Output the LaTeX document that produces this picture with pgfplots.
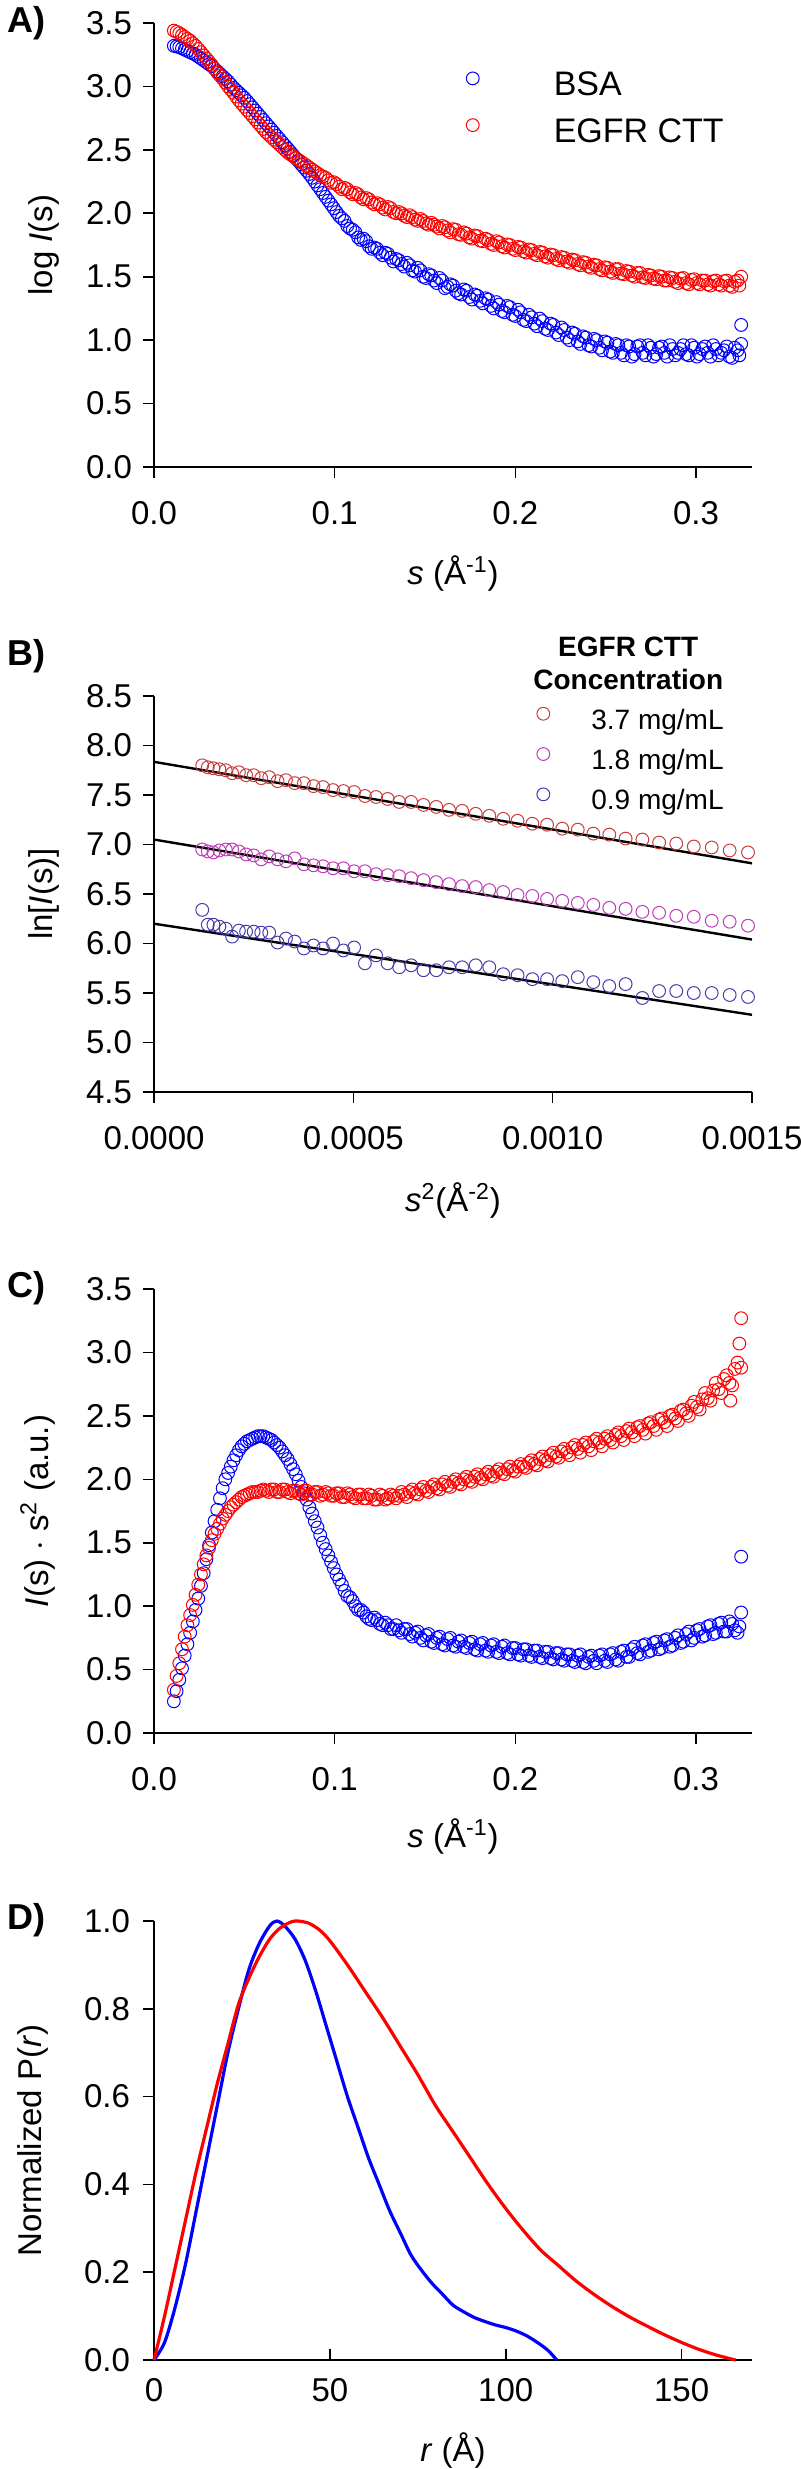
\documentclass[border=0pt]{standalone}
\usepackage{pgfplots}
\pgfplotsset{compat=1.18}
\usepackage{pgfplotstable}
\usepackage{fontspec}
\setmainfont{Liberation Sans}
\newcommand{\fs}{\fontsize{16.5pt}{19.8pt}\selectfont}
\newcommand{\fsleg}{\fontsize{17pt}{20pt}\selectfont}
\newcommand{\fslegb}{\fontsize{14pt}{16.5pt}\selectfont}
\newcommand{\fslet}{\fontsize{18pt}{21pt}\selectfont\bfseries}
\definecolor{bred}{RGB}{200,60,60}
\definecolor{bmag}{RGB}{190,60,180}
\definecolor{bblue}{RGB}{70,60,170}

\pgfplotstableread{
s v
0.011 3.32
0.014 3.31
0.017 3.29
0.020 3.27
0.023 3.25
0.026 3.22
0.029 3.19
0.032 3.16
0.035 3.12
0.038 3.08
0.041 3.04
0.044 2.99
0.047 2.95
0.050 2.91
0.053 2.86
0.056 2.81
0.059 2.76
0.062 2.71
0.065 2.66
0.068 2.61
0.071 2.56
0.074 2.51
0.077 2.46
0.080 2.41
0.083 2.36
0.086 2.31
0.089 2.25
0.092 2.19
0.095 2.13
0.098 2.07
0.101 2.01
0.104 1.96
0.107 1.90
0.110 1.87
0.113 1.81
0.116 1.80
0.119 1.74
0.122 1.73
0.125 1.69
0.128 1.69
0.131 1.65
0.134 1.64
0.137 1.60
0.140 1.61
0.143 1.55
0.146 1.57
0.149 1.50
0.152 1.52
0.155 1.47
0.158 1.49
0.161 1.41
0.164 1.44
0.167 1.39
0.170 1.36
0.173 1.39
0.176 1.32
0.179 1.35
0.182 1.29
0.185 1.32
0.188 1.25
0.191 1.28
0.194 1.22
0.197 1.26
0.200 1.19
0.203 1.22
0.206 1.15
0.209 1.18
0.212 1.11
0.215 1.15
0.218 1.08
0.221 1.12
0.224 1.04
0.227 1.08
0.230 1.00
0.233 1.05
0.236 0.97
0.239 1.02
0.242 0.95
0.245 1.00
0.248 0.92
0.251 0.98
0.254 0.90
0.257 0.96
0.260 0.88
0.263 0.95
0.266 0.89
0.269 0.96
0.272 0.88
0.275 0.94
0.278 0.89
0.281 0.95
0.284 0.87
0.287 0.93
0.290 0.90
0.293 0.96
0.296 0.88
0.299 0.94
0.302 0.89
0.305 0.95
0.308 0.87
0.311 0.93
0.314 0.90
0.317 0.95
0.320 0.86
0.323 0.92
0.325 0.97
0.325 1.12
0.324 0.88
0.0125 3.315
0.0155 3.30
0.0185 3.28
0.0215 3.26
0.0245 3.235
0.0275 3.205
0.0305 3.175
0.0335 3.14
0.0365 3.10
0.0395 3.06
0.0425 3.015
0.0455 2.97
0.0485 2.93
0.0515 2.885
0.0545 2.835
0.0575 2.785
0.0605 2.735
0.0635 2.685
0.0665 2.635
0.0695 2.585
0.0725 2.535
0.0755 2.485
0.0785 2.435
0.0815 2.385
0.0845 2.335
0.0875 2.28
0.0905 2.22
0.0935 2.16
0.0965 2.10
0.0995 2.04
0.1025 1.98
0.1055 1.94
0.1085 1.88
0.1115 1.85
0.1145 1.79
0.1175 1.78
0.1205 1.72
0.1235 1.72
0.1265 1.67
0.1295 1.68
0.1325 1.62
0.1355 1.63
0.1385 1.58
0.1415 1.59
0.1445 1.54
0.1475 1.55
0.1505 1.49
0.1535 1.51
0.1565 1.45
0.1595 1.47
0.1625 1.42
0.1655 1.43
0.1685 1.37
0.1715 1.40
0.1745 1.34
0.1775 1.36
0.1805 1.31
0.1835 1.33
0.1865 1.27
0.1895 1.30
0.1925 1.23
0.1955 1.27
0.1985 1.20
0.2015 1.24
0.2045 1.16
0.2075 1.20
0.2105 1.13
0.2135 1.17
0.2165 1.09
0.2195 1.13
0.2225 1.06
0.2255 1.10
0.2285 1.02
0.2315 1.06
0.2345 0.99
0.2375 1.03
0.2405 0.96
0.2435 1.01
0.2465 0.94
0.2495 0.99
0.2525 0.91
0.2555 0.97
0.2585 0.90
0.2615 0.96
0.2645 0.87
0.2675 0.95
0.2705 0.90
0.2735 0.96
0.2765 0.87
0.2795 0.94
0.2825 0.90
0.2855 0.96
0.2885 0.88
0.2915 0.93
0.2945 0.89
0.2975 0.96
0.3005 0.87
0.3035 0.93
0.3065 0.90
0.3095 0.96
0.3125 0.88
0.3155 0.92
0.3185 0.87
0.3215 0.94
}\Ablue

\pgfplotstableread{
s v
0.011 3.44
0.014 3.42
0.017 3.39
0.020 3.36
0.023 3.32
0.026 3.27
0.029 3.22
0.032 3.17
0.035 3.11
0.038 3.06
0.041 3.00
0.044 2.95
0.047 2.89
0.050 2.84
0.053 2.79
0.056 2.74
0.059 2.69
0.062 2.64
0.065 2.60
0.068 2.56
0.071 2.52
0.074 2.48
0.077 2.45
0.080 2.42
0.083 2.39
0.086 2.36
0.089 2.33
0.092 2.30
0.095 2.28
0.098 2.24
0.101 2.23
0.104 2.19
0.107 2.19
0.110 2.15
0.113 2.15
0.116 2.11
0.119 2.11
0.122 2.07
0.125 2.07
0.128 2.03
0.131 2.04
0.134 2.00
0.137 2.00
0.140 1.97
0.143 1.97
0.146 1.94
0.149 1.94
0.152 1.91
0.155 1.91
0.158 1.88
0.161 1.89
0.164 1.85
0.167 1.87
0.170 1.83
0.173 1.84
0.176 1.80
0.179 1.82
0.182 1.78
0.185 1.79
0.188 1.75
0.191 1.77
0.194 1.73
0.197 1.75
0.200 1.71
0.203 1.73
0.206 1.69
0.209 1.71
0.212 1.67
0.215 1.69
0.218 1.65
0.221 1.67
0.224 1.63
0.227 1.65
0.230 1.61
0.233 1.63
0.236 1.59
0.239 1.61
0.242 1.57
0.245 1.59
0.248 1.55
0.251 1.57
0.254 1.53
0.257 1.56
0.260 1.52
0.263 1.54
0.266 1.50
0.269 1.53
0.272 1.49
0.275 1.51
0.278 1.48
0.281 1.50
0.284 1.47
0.287 1.49
0.290 1.45
0.293 1.49
0.296 1.44
0.299 1.48
0.302 1.44
0.305 1.47
0.308 1.43
0.311 1.47
0.314 1.43
0.317 1.47
0.320 1.42
0.323 1.47
0.325 1.50
0.324 1.43
0.0125 3.43
0.0155 3.405
0.0185 3.375
0.0215 3.34
0.0245 3.295
0.0275 3.245
0.0305 3.195
0.0335 3.14
0.0365 3.085
0.0395 3.03
0.0425 2.975
0.0455 2.92
0.0485 2.865
0.0515 2.815
0.0545 2.765
0.0575 2.715
0.0605 2.665
0.0635 2.62
0.0665 2.58
0.0695 2.54
0.0725 2.50
0.0755 2.465
0.0785 2.435
0.0815 2.405
0.0845 2.375
0.0875 2.345
0.0905 2.315
0.0935 2.29
0.0965 2.26
0.0995 2.245
0.1025 2.21
0.1055 2.20
0.1085 2.165
0.1115 2.16
0.1145 2.125
0.1175 2.12
0.1205 2.085
0.1235 2.08
0.1265 2.045
0.1295 2.05
0.1325 2.01
0.1355 2.01
0.1385 1.98
0.1415 1.985
0.1445 1.95
0.1475 1.955
0.1505 1.92
0.1535 1.925
0.1565 1.895
0.1595 1.90
0.1625 1.865
0.1655 1.875
0.1685 1.835
0.1715 1.85
0.1745 1.81
0.1775 1.825
0.1805 1.785
0.1835 1.80
0.1865 1.76
0.1895 1.78
0.1925 1.74
0.1955 1.755
0.1985 1.72
0.2015 1.735
0.2045 1.70
0.2075 1.715
0.2105 1.68
0.2135 1.695
0.2165 1.66
0.2195 1.675
0.2225 1.64
0.2255 1.655
0.2285 1.62
0.2315 1.635
0.2345 1.60
0.2375 1.615
0.2405 1.58
0.2435 1.595
0.2465 1.56
0.2495 1.575
0.2525 1.54
0.2555 1.56
0.2585 1.525
0.2615 1.545
0.2645 1.51
0.2675 1.53
0.2705 1.495
0.2735 1.515
0.2765 1.485
0.2795 1.505
0.2825 1.47
0.2855 1.495
0.2885 1.46
0.2915 1.485
0.2945 1.45
0.2975 1.475
0.3005 1.45
0.3035 1.47
0.3065 1.44
0.3095 1.465
0.3125 1.44
0.3155 1.465
0.3185 1.43
0.3215 1.46
}\Ared

\pgfplotstableread{
s v
0.011 0.25
0.014 0.42
0.017 0.61
0.020 0.79
0.023 0.97
0.026 1.16
0.029 1.37
0.032 1.58
0.035 1.76
0.038 1.93
0.041 2.05
0.044 2.15
0.047 2.23
0.050 2.28
0.053 2.31
0.056 2.33
0.059 2.34
0.062 2.33
0.065 2.31
0.068 2.27
0.071 2.22
0.074 2.16
0.077 2.08
0.080 1.99
0.083 1.89
0.086 1.78
0.089 1.67
0.092 1.56
0.095 1.45
0.098 1.35
0.101 1.25
0.104 1.17
0.107 1.08
0.110 1.04
0.113 0.97
0.116 0.95
0.119 0.90
0.122 0.91
0.125 0.86
0.128 0.87
0.131 0.82
0.134 0.85
0.137 0.79
0.140 0.82
0.143 0.76
0.146 0.80
0.149 0.73
0.152 0.78
0.155 0.71
0.158 0.76
0.161 0.69
0.164 0.75
0.167 0.68
0.170 0.73
0.173 0.67
0.176 0.72
0.179 0.65
0.182 0.71
0.185 0.64
0.188 0.70
0.191 0.63
0.194 0.69
0.197 0.62
0.200 0.67
0.203 0.61
0.206 0.66
0.209 0.60
0.212 0.65
0.215 0.59
0.218 0.64
0.221 0.58
0.224 0.63
0.227 0.57
0.230 0.62
0.233 0.56
0.236 0.62
0.239 0.55
0.242 0.61
0.245 0.55
0.248 0.62
0.251 0.56
0.254 0.63
0.257 0.57
0.260 0.65
0.263 0.60
0.266 0.68
0.269 0.62
0.272 0.70
0.275 0.65
0.278 0.72
0.281 0.67
0.284 0.74
0.287 0.69
0.290 0.77
0.293 0.72
0.296 0.80
0.299 0.75
0.302 0.82
0.305 0.77
0.308 0.85
0.311 0.79
0.314 0.87
0.317 0.80
0.320 0.86
0.323 0.79
0.325 0.95
0.325 1.39
0.324 0.84
0.0125 0.33
0.0155 0.51
0.0185 0.70
0.0215 0.88
0.0245 1.06
0.0275 1.26
0.0305 1.48
0.0335 1.67
0.0365 1.85
0.0395 2.00
0.0425 2.10
0.0455 2.19
0.0485 2.26
0.0515 2.30
0.0545 2.32
0.0575 2.34
0.0605 2.34
0.0635 2.32
0.0665 2.29
0.0695 2.25
0.0725 2.19
0.0755 2.12
0.0785 2.04
0.0815 1.94
0.0845 1.84
0.0875 1.73
0.0905 1.62
0.0935 1.50
0.0965 1.40
0.0995 1.30
0.1025 1.21
0.1055 1.12
0.1085 1.07
0.1115 1.00
0.1145 0.97
0.1175 0.92
0.1205 0.89
0.1235 0.89
0.1265 0.85
0.1295 0.85
0.1325 0.82
0.1355 0.81
0.1385 0.82
0.1415 0.78
0.1445 0.79
0.1475 0.75
0.1505 0.77
0.1535 0.72
0.1565 0.75
0.1595 0.70
0.1625 0.74
0.1655 0.69
0.1685 0.72
0.1715 0.68
0.1745 0.71
0.1775 0.66
0.1805 0.70
0.1835 0.65
0.1865 0.69
0.1895 0.64
0.1925 0.68
0.1955 0.63
0.1985 0.67
0.2015 0.62
0.2045 0.66
0.2075 0.61
0.2105 0.65
0.2135 0.60
0.2165 0.64
0.2195 0.59
0.2225 0.63
0.2255 0.58
0.2285 0.62
0.2315 0.57
0.2345 0.61
0.2375 0.56
0.2405 0.60
0.2435 0.57
0.2465 0.61
0.2495 0.57
0.2525 0.62
0.2555 0.58
0.2585 0.64
0.2615 0.60
0.2645 0.66
0.2675 0.63
0.2705 0.69
0.2735 0.64
0.2765 0.71
0.2795 0.66
0.2825 0.73
0.2855 0.68
0.2885 0.75
0.2915 0.71
0.2945 0.78
0.2975 0.73
0.3005 0.81
0.3035 0.76
0.3065 0.84
0.3095 0.78
0.3125 0.86
0.3155 0.80
0.3185 0.88
0.3215 0.81
}\Cblue

\pgfplotstableread{
s v
0.011 0.34
0.014 0.55
0.017 0.76
0.020 0.93
0.023 1.09
0.026 1.25
0.029 1.40
0.032 1.52
0.035 1.61
0.038 1.69
0.041 1.75
0.044 1.80
0.047 1.84
0.050 1.87
0.053 1.89
0.056 1.90
0.059 1.91
0.062 1.91
0.065 1.92
0.068 1.90
0.071 1.92
0.074 1.90
0.077 1.91
0.080 1.89
0.083 1.91
0.086 1.88
0.089 1.90
0.092 1.87
0.095 1.90
0.098 1.87
0.101 1.89
0.104 1.86
0.107 1.89
0.110 1.86
0.113 1.88
0.116 1.85
0.119 1.88
0.122 1.84
0.125 1.88
0.128 1.84
0.131 1.88
0.134 1.85
0.137 1.90
0.140 1.86
0.143 1.92
0.146 1.88
0.149 1.94
0.152 1.90
0.155 1.96
0.158 1.92
0.161 1.98
0.164 1.94
0.167 2.00
0.170 1.96
0.173 2.02
0.176 1.98
0.179 2.04
0.182 2.00
0.185 2.06
0.188 2.02
0.191 2.08
0.194 2.04
0.197 2.10
0.200 2.06
0.203 2.12
0.206 2.09
0.209 2.15
0.212 2.11
0.215 2.18
0.218 2.14
0.221 2.21
0.224 2.17
0.227 2.24
0.230 2.19
0.233 2.27
0.236 2.21
0.239 2.29
0.242 2.23
0.245 2.32
0.248 2.26
0.251 2.34
0.254 2.29
0.257 2.37
0.260 2.31
0.263 2.40
0.266 2.34
0.269 2.42
0.272 2.36
0.275 2.45
0.278 2.39
0.281 2.48
0.284 2.42
0.287 2.51
0.290 2.46
0.293 2.55
0.296 2.50
0.299 2.61
0.302 2.55
0.305 2.68
0.308 2.62
0.311 2.76
0.314 2.68
0.317 2.82
0.320 2.74
0.323 2.92
0.319 2.62
0.324 3.07
0.325 3.27
0.325 2.88
0.0125 0.45
0.0155 0.66
0.0185 0.85
0.0215 1.01
0.0245 1.17
0.0275 1.33
0.0305 1.46
0.0335 1.57
0.0365 1.65
0.0395 1.72
0.0425 1.78
0.0455 1.82
0.0485 1.86
0.0515 1.88
0.0545 1.90
0.0575 1.90
0.0605 1.92
0.0635 1.90
0.0665 1.92
0.0695 1.90
0.0725 1.92
0.0755 1.89
0.0785 1.91
0.0815 1.88
0.0845 1.91
0.0875 1.88
0.0905 1.90
0.0935 1.88
0.0965 1.89
0.0995 1.87
0.1025 1.89
0.1055 1.86
0.1085 1.88
0.1115 1.85
0.1145 1.88
0.1175 1.85
0.1205 1.87
0.1235 1.84
0.1265 1.87
0.1295 1.85
0.1325 1.87
0.1355 1.87
0.1385 1.88
0.1415 1.90
0.1445 1.89
0.1475 1.92
0.1505 1.91
0.1535 1.94
0.1565 1.93
0.1595 1.96
0.1625 1.95
0.1655 1.98
0.1685 1.97
0.1715 2.00
0.1745 1.99
0.1775 2.02
0.1805 2.01
0.1835 2.04
0.1865 2.03
0.1895 2.06
0.1925 2.05
0.1955 2.08
0.1985 2.07
0.2015 2.10
0.2045 2.10
0.2075 2.13
0.2105 2.12
0.2135 2.16
0.2165 2.15
0.2195 2.19
0.2225 2.18
0.2255 2.22
0.2285 2.21
0.2315 2.25
0.2345 2.24
0.2375 2.27
0.2405 2.26
0.2435 2.30
0.2465 2.29
0.2495 2.32
0.2525 2.31
0.2555 2.35
0.2585 2.34
0.2615 2.38
0.2645 2.37
0.2675 2.41
0.2705 2.39
0.2735 2.44
0.2765 2.42
0.2795 2.47
0.2825 2.45
0.2855 2.50
0.2885 2.48
0.2915 2.54
0.2945 2.52
0.2975 2.58
0.3005 2.57
0.3035 2.63
0.3065 2.64
0.3095 2.70
0.3125 2.71
0.3155 2.79
0.3185 2.76
0.3215 2.87
}\Cred

\pgfplotstableread{
x r m b
0.000121 7.80 6.95 6.34
0.000135 7.78 6.93 6.19
0.000149 7.77 6.92 6.19
0.000164 7.76 6.94 6.17
0.000180 7.75 6.95 6.15
0.000196 7.72 6.95 6.07
0.000213 7.73 6.93 6.13
0.000231 7.70 6.90 6.12
0.000250 7.70 6.89 6.12
0.000269 7.67 6.85 6.11
0.000289 7.68 6.88 6.11
0.000310 7.64 6.85 6.01
0.000331 7.65 6.83 6.05
0.000353 7.62 6.86 6.02
0.000376 7.62 6.80 5.95
0.000400 7.59 6.79 5.98
0.000424 7.58 6.78 5.95
0.000449 7.55 6.76 6.00
0.000475 7.54 6.76 5.93
0.000502 7.53 6.73 5.96
0.000529 7.49 6.73 5.80
0.000557 7.48 6.70 5.88
0.000586 7.46 6.69 5.80
0.000615 7.43 6.68 5.76
0.000645 7.43 6.66 5.78
0.000676 7.40 6.64 5.73
0.000708 7.38 6.62 5.73
0.000740 7.35 6.60 5.76
0.000773 7.34 6.58 5.76
0.000807 7.31 6.57 5.78
0.000841 7.29 6.54 5.76
0.000876 7.26 6.52 5.69
0.000912 7.24 6.49 5.68
0.000949 7.21 6.48 5.64
0.000986 7.20 6.45 5.64
0.001024 7.16 6.43 5.62
0.001063 7.15 6.41 5.66
0.001102 7.11 6.39 5.61
0.001142 7.10 6.36 5.57
0.001183 7.06 6.35 5.59
0.001225 7.05 6.32 5.45
0.001267 7.02 6.31 5.52
0.001310 7.01 6.28 5.52
0.001354 6.98 6.27 5.50
0.001399 6.97 6.23 5.50
0.001444 6.94 6.22 5.48
0.001490 6.92 6.18 5.46
}\Bdata

\pgfplotsset{
  panel/.style={
    scale only axis, width=299pt,
    axis x line=bottom, axis y line=left,
    axis line style={-, line width=0.8pt, black},
    tick align=outside,
    major tick length=5.5pt,
    tick style={line width=0.8pt, black},
    every tick label/.append style={font=\fs, text=black},
    /pgf/number format/assume math mode=true,
    scaled ticks=false,
    clip=false,
  },
  scat/.style={only marks, mark=o, mark size=3.2pt, mark options={line width=0.5pt}},
  one/.style={/pgf/number format/.cd, fixed, fixed zerofill, precision=1},
}

\begin{document}
\begin{tikzpicture}
\useasboundingbox (0,0) rectangle (400pt,-1234.5pt);

% ---------------- A ----------------
\begin{axis}[panel, at={(77pt,-233.5pt)}, anchor=south west, height=222pt,
  xmin=0, xmax=0.331, ymin=0, ymax=3.5,
  xtick={0,0.1,0.2,0.3}, ytick={0,0.5,1,1.5,2,2.5,3,3.5},
  xticklabel style={yshift=-8pt, one}, yticklabel style={xshift=-2pt, one},
  xlabel={\textit{s} (Å\textsuperscript{-1})},
  ylabel={log \textit{I}(s)},
  every axis x label/.style={at={(axis description cs:0.5,-0.241)}, anchor=center, font=\fs},
  every axis y label/.style={at={(axis description cs:-0.184,0.5)}, rotate=90, anchor=center, font=\fs},
  legend style={at={(rel axis cs:0.519,0.895)}, anchor=north west, draw=none, fill=none,
    font=\fsleg, row sep=8pt, inner sep=0pt, nodes={inner sep=1pt}},
  legend cell align=left,
  legend image code/.code={\draw[#1] plot coordinates {(0pt,0.35em)}; \path[draw=none] (-4pt,0pt) (39.5pt,0pt);},
]
\addplot[scat, blue] table[x=s, y=v] {\Ablue};
\addlegendentry{BSA}
\addplot[scat, red] table[x=s, y=v] {\Ared};
\addlegendentry{EGFR CTT}
\end{axis}

% ---------------- B ----------------
\begin{axis}[panel, at={(77pt,-546pt)}, anchor=south west, height=198pt,
  xmin=0, xmax=0.0015, ymin=4.5, ymax=8.5,
  xtick={0,0.0005,0.001,0.0015}, ytick={4.5,5,5.5,6,6.5,7,7.5,8,8.5},
  xticklabel style={yshift=-8pt, /pgf/number format/.cd, fixed, fixed zerofill, precision=4},
  yticklabel style={xshift=-2pt, one},
  xlabel={\textit{s}\textsuperscript{2}(Å\textsuperscript{-2})},
  ylabel={ln[\textit{I}(s)]},
  every axis x label/.style={at={(axis description cs:0.5,-0.275)}, anchor=center, font=\fs},
  every axis y label/.style={at={(axis description cs:-0.184,0.5)}, rotate=90, anchor=center, font=\fs},
  legend style={at={(rel axis cs:0.637,0.973)}, anchor=north west, draw=none, fill=none,
    font=\fslegb, row sep=6.5pt, inner sep=0pt, nodes={inner sep=1pt}},
  legend cell align=left,
  legend image code/.code={\draw[#1] plot coordinates {(0pt,0.35em)}; \path[draw=none] (-4pt,0pt) (23pt,0pt);},
]
\addplot[scat, bred] table[x=x, y=r] {\Bdata};
\addlegendentry{3.7 mg/mL}
\addplot[scat, bmag] table[x=x, y=m] {\Bdata};
\addlegendentry{1.8 mg/mL}
\addplot[scat, bblue] table[x=x, y=b] {\Bdata};
\addlegendentry{0.9 mg/mL}
\addplot[black, line width=1.2pt, forget plot] coordinates {(0,7.835) (0.0015,6.81)};
\addplot[black, line width=1.2pt, forget plot] coordinates {(0,7.05) (0.0015,6.04)};
\addplot[black, line width=1.2pt, forget plot] coordinates {(0,6.20) (0.0015,5.28)};
\node[font=\fslegb\bfseries, align=center, anchor=center] at (rel axis cs:0.793,1.082) {EGFR CTT\\Concentration};
\end{axis}

% ---------------- C ----------------
\begin{axis}[panel, at={(77pt,-866.5pt)}, anchor=south west, height=222pt,
  xmin=0, xmax=0.331, ymin=0, ymax=3.5,
  xtick={0,0.1,0.2,0.3}, ytick={0,0.5,1,1.5,2,2.5,3,3.5},
  xticklabel style={yshift=-8pt, one}, yticklabel style={xshift=-2pt, one},
  xlabel={\textit{s} (Å\textsuperscript{-1})},
  ylabel={\textit{I}(s) $\cdot$ s\textsuperscript{2} (a.u.)},
  every axis x label/.style={at={(axis description cs:0.5,-0.234)}, anchor=center, font=\fs},
  every axis y label/.style={at={(axis description cs:-0.194,0.5)}, rotate=90, anchor=center, font=\fs},
]
\addplot[scat, blue] table[x=s, y=v] {\Cblue};
\addplot[scat, red] table[x=s, y=v] {\Cred};
\end{axis}

% ---------------- D ----------------
\begin{axis}[panel, at={(77pt,-1180pt)}, anchor=south west, height=219.5pt,
  xmin=0, xmax=170, ymin=0, ymax=1,
  xtick={0,50,100,150}, ytick={0,0.2,0.4,0.6,0.8,1},
  yticklabel style={xshift=-3pt, one},
  xtick style={yshift=5.5pt},
  xlabel={\textit{r} (Å)},
  ylabel={Normalized P(\textit{r})},
  every axis x label/.style={at={(axis description cs:0.5,-0.205)}, anchor=center, font=\fs},
  every axis y label/.style={at={(axis description cs:-0.202,0.5)}, rotate=90, anchor=center, font=\fs},
]
\addplot[blue, line width=1.6pt, smooth] coordinates {(0,0)(3,0.04)(6,0.12)(9,0.22)(12,0.34)(15,0.46)(18,0.58)(21,0.70)(24,0.80)(27,0.89)(30,0.95)(33,0.99)(35,1.00)(37,0.99)(40,0.96)(43,0.91)(46,0.84)(49,0.76)(52,0.68)(55,0.60)(58,0.53)(61,0.46)(64,0.40)(67,0.34)(70,0.29)(73,0.24)(76,0.205)(79,0.175)(82,0.15)(85,0.125)(88,0.11)(91,0.097)(94,0.088)(97,0.08)(100,0.074)(103,0.066)(106,0.055)(109,0.04)(112,0.022)(114.5,0)};
\addplot[red, line width=1.6pt, smooth] coordinates {(0,0)(3,0.10)(6,0.21)(9,0.32)(12,0.43)(15,0.53)(18,0.63)(21,0.72)(24,0.81)(27,0.87)(30,0.92)(33,0.96)(36,0.985)(39,0.998)(41,1.0)(44,0.995)(47,0.98)(50,0.955)(55,0.90)(60,0.84)(65,0.78)(70,0.715)(75,0.65)(80,0.58)(85,0.52)(90,0.46)(95,0.40)(100,0.345)(105,0.295)(110,0.25)(115,0.215)(120,0.18)(125,0.15)(130,0.123)(135,0.099)(140,0.078)(145,0.058)(150,0.04)(155,0.024)(160,0.011)(165.3,0)};
\end{axis}

\node[font=\fslet, anchor=west] at (0pt,-11.5pt) {A)};
\node[font=\fslet, anchor=west] at (0pt,-328pt) {B)};
\node[font=\fslet, anchor=west] at (0pt,-644pt) {C)};
\node[font=\fslet, anchor=west] at (0pt,-960pt) {D)};
\end{tikzpicture}
\end{document}
